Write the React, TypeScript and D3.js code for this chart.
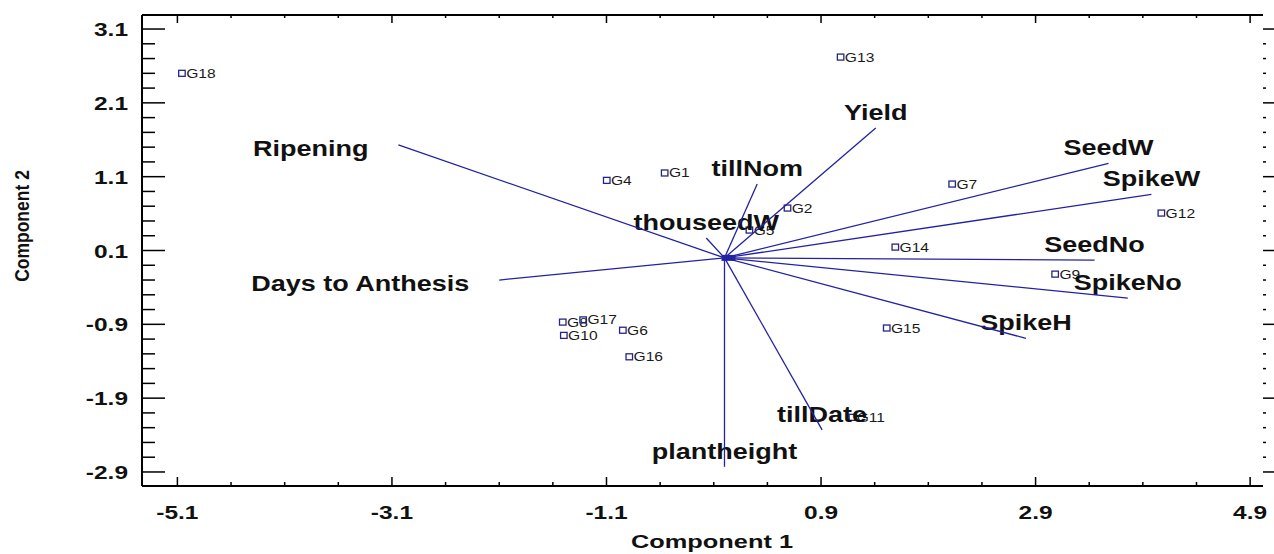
import { scaleLinear, range } from 'd3';

const W = 1274;
const H = 554;

// genotype scores (component 1, component 2)
const genotypes = ['G18', 'G13', 'G4', 'G1', 'G2', 'G5', 'G7', 'G12', 'G14', 'G9', 'G15', 'G11', 'G16', 'G6', 'G10', 'G8', 'G17'];
const comp1Scores = [-5.06, 1.08, -1.1, -0.56, 0.585, 0.23, 2.12, 4.07, 1.59, 3.08, 1.51, 1.19, -0.89, -0.95, -1.5, -1.51, -1.32];
const comp2Scores = [2.5, 2.72, 1.05, 1.15, 0.675, 0.377, 1.0, 0.607, 0.146, -0.22, -0.95, -2.16, -1.34, -0.98, -1.05, -0.87, -0.84];

// trait loadings (vector ends)
const traits = ['Ripening', 'Days to Anthesis', 'Yield', 'tillNom', 'thouseedW', 'SeedW', 'SpikeW', 'SeedNo', 'SpikeNo', 'SpikeH', 'tillDate', 'plantheight'];
const comp1Loadings = [-3.04, -2.1, 1.41, 0.305, -0.17, 3.58, 3.98, 3.45, 3.76, 2.81, 0.91, 0.0];
const comp2Loadings = [1.53, -0.3, 1.76, 1.0, 0.27, 1.28, 0.86, -0.03, -0.545, -1.09, -2.33, -2.83];

const xTickLabels = ['-5.1', '-3.1', '-1.1', '0.9', '2.9', '4.9'];
const yTickLabels = ['3.1', '2.1', '1.1', '0.1', '-0.9', '-1.9', '-2.9'];

const FONT = '"Liberation Sans", Arial, sans-serif';
const LINE = '#2222a2';

const box = { left: 142, right: 1263, top: 15, bottom: 486 };

const Txt = (p: {
  x: number; y: number; sx: number; size: number; anchor?: string; weight?: string;
  fill?: string; rotate?: number; children: string;
}) => (
  <text
    transform={`translate(${p.x},${p.y}) scale(${p.sx},1)${p.rotate ? ` rotate(${p.rotate})` : ''}`}
    textAnchor={p.anchor || 'start'}
    fontSize={p.size}
    fontWeight={p.weight || 'bold'}
    fontFamily={FONT}
    fill={p.fill || '#111'}
  >
    {p.children}
  </text>
);

const App = () => {
  const x = scaleLinear().domain([-5.43, 5.02]).range([box.left, box.right]);
  const y = scaleLinear().domain([-3.09, 3.29]).range([box.bottom, box.top]);

  const xMajor = xTickLabels.map(Number);
  const xMinor = range(0, 21).filter((k) => k % 4 !== 0).map((k) => -5.1 + 0.5 * k);
  const yMajor = yTickLabels.map(Number);
  const yMinor = range(0, 31).filter((k) => k % 5 !== 0).map((k) => -2.9 + 0.2 * k);

  const x0 = x(0);
  const y0 = y(0);

  return (
    <svg width={W} height={H} style={{ position: 'absolute', left: 0, top: 0, background: '#fff' }}>
      {/* frame */}
      <g stroke="#000" strokeWidth={2}>
        <line x1={box.left} x2={box.left} y1={box.top} y2={box.bottom} />
        <line x1={box.left} x2={box.right} y1={box.top} y2={box.top} />
        <line x1={box.left} x2={box.right} y1={box.bottom} y2={box.bottom} />
      </g>

      {/* x ticks bottom / top */}
      <g stroke="#000" strokeWidth={1.5}>
        {xMajor.map((v) => (
          <g key={'xm' + v}>
            <line x1={x(v)} x2={x(v)} y1={box.bottom} y2={box.bottom - 9} />
            <line x1={x(v)} x2={x(v)} y1={box.top} y2={box.top + 8} />
          </g>
        ))}
        {xMinor.map((v) => (
          <g key={'xn' + v}>
            <line x1={x(v)} x2={x(v)} y1={box.bottom} y2={box.bottom - 4} />
            <line x1={x(v)} x2={x(v)} y1={box.top} y2={box.top + 3} />
          </g>
        ))}
      </g>

      {/* y ticks left / right */}
      <g stroke="#000" strokeWidth={1.5}>
        {yMajor.map((v) => (
          <g key={'ym' + v}>
            <line x1={box.left} x2={box.left + 23} y1={y(v)} y2={y(v)} />
            <line x1={box.right} x2={W} y1={y(v)} y2={y(v)} />
          </g>
        ))}
        {yMinor.map((v) => (
          <g key={'yn' + v}>
            <line x1={box.left} x2={box.left + 13} y1={y(v)} y2={y(v)} />
            <line x1={box.right} x2={box.right + 3} y1={y(v)} y2={y(v)} />
          </g>
        ))}
      </g>

      {/* tick labels */}
      {xTickLabels.map((t) => (
        <Txt key={'xl' + t} x={x(+t)} y={519} sx={1.4} size={17.5} anchor="middle">{t}</Txt>
      ))}
      {yTickLabels.map((t) => (
        <Txt key={'yl' + t} x={128} y={y(+t) + 7} sx={1.4} size={17.5} anchor="end">{t}</Txt>
      ))}

      {/* axis titles */}
      <Txt x={712} y={548} sx={1.45} size={17.5} anchor="middle">Component 1</Txt>
      <Txt x={29} y={226} sx={1.2} size={17.5} anchor="middle" rotate={-90}>Component 2</Txt>

      {/* genotype points */}
      {genotypes.map((g, i) => {
        const px = x(comp1Scores[i]);
        const py = y(comp2Scores[i]);
        return (
          <g key={g}>
            <rect x={px - 3} y={py - 3} width={6.5} height={6} fill="none" stroke="#25258a" strokeWidth={1.3} />
            <Txt x={px + 4.5} y={py + 4.5} sx={1.3} size={12} weight="normal" fill="#1a1a1a">{g}</Txt>
          </g>
        );
      })}

      {/* trait labels */}
      {traits.map((t, i) => {
        const ex = x(comp1Loadings[i]);
        const ey = y(comp2Loadings[i]);
        const left = comp1Loadings[i] < -1;
        return left ? (
          <Txt key={t} x={ex - 30} y={ey + 11} sx={1.2} size={22.5} anchor="end">{t}</Txt>
        ) : (
          <Txt key={t} x={ex} y={ey - 8} sx={1.2} size={22.5} anchor="middle">{t}</Txt>
        );
      })}

      {/* trait vectors */}
      <g stroke={LINE} strokeWidth={1.3}>
        {traits.map((t, i) => (
          <line key={'v' + t} x1={x0} y1={y0} x2={x(comp1Loadings[i])} y2={y(comp2Loadings[i])} />
        ))}
      </g>
      <rect x={x0 - 3} y={y0 - 3} width={14} height={6} fill={LINE} />
    </svg>
  );
};

export default App;
